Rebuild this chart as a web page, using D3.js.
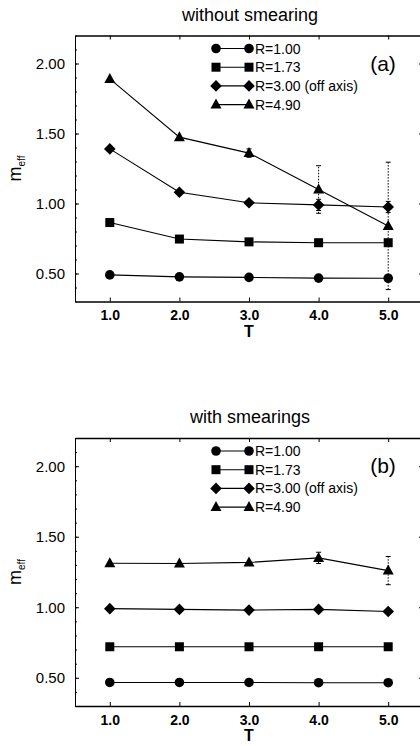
<!DOCTYPE html>
<html lang="en">
<head>
<meta charset="UTF-8">
<title>m_eff vs T</title>
<script src="https://d3js.org/d3.v7.min.js"></script>
<style>
  body { margin: 0; background: #fff; font-family: "Liberation Sans", Arial, sans-serif; }
  svg text { fill: #000; }
</style>
</head>
<body>
<div id="chart"></div>
<script>
// shared
const T = [1, 2, 3, 4, 5];
const xTicks = [1, 2, 3, 4, 5];
const yTicks = [0.5, 1.0, 1.5, 2.0];
const seriesNames = ["R=1.00", "R=1.73", "R=3.00 (off axis)", "R=4.90"];
const seriesShapes = ["circle", "square", "diamond", "triangle"];

// (a) without smearing
const a_r100 = [0.49, 0.476, 0.472, 0.467, 0.466];
const a_r173 = [0.864, 0.746, 0.726, 0.72, 0.72];
const a_r300 = [1.39, 1.08, 1.005, 0.99, 0.975];
const a_r490 = [1.89, 1.474, 1.36, 1.10, 0.84];
const a_err300 = [0, 0, 0, 0.04, 0.04];
const a_err490 = [0, 0, 0.03, 0.17, 0.455];

// (b) with smearings
const b_r100 = [0.467, 0.467, 0.467, 0.465, 0.465];
const b_r173 = [0.72, 0.72, 0.72, 0.72, 0.72];
const b_r300 = [0.99, 0.985, 0.98, 0.985, 0.97];
const b_r490 = [1.312, 1.31, 1.318, 1.35, 1.26];
const b_err300 = [0, 0, 0, 0, 0];
const b_err490 = [0, 0, 0, 0.04, 0.10];

const W = 420, H = 746;
const svg = d3.select('#chart').append('svg')
    .attr('width', W).attr('height', H);

drawPanel({
    top: 35.5, bottom: 301.5, title: "without smearing", titleY: 21, tag: "(a)",
    series: [a_r100, a_r173, a_r300, a_r490],
    errs: [null, null, a_err300, a_err490]
});
drawPanel({
    top: 438, bottom: 706, title: "with smearings", titleY: 423, tag: "(b)",
    series: [b_r100, b_r173, b_r300, b_r490],
    errs: [null, null, b_err300, b_err490]
});

function marker(g, shape, x, y) {
    if (shape == "circle") {
        g.append('circle').attr('cx', x).attr('cy', y).attr('r', 4.8);
    } else if (shape == "square") {
        g.append('rect').attr('x', x - 4.5).attr('y', y - 4.5).attr('width', 9).attr('height', 9);
    } else if (shape == "diamond") {
        g.append('path').attr('d', `M${x},${y-5.8}L${x+5.8},${y}L${x},${y+5.8}L${x-5.8},${y}Z`);
    } else {
        g.append('path').attr('d', `M${x},${y-6}L${x+5.5},${y+4}L${x-5.5},${y+4}Z`);
    }
}

function drawPanel(p) {
    const x = d3.scaleLinear().domain([0.5, 5.5]).range([75, 423]);
    const y = d3.scaleLinear().domain([0.3, 2.2]).range([p.bottom, p.top]);
    const g = svg.append('g');

    // axes: bottom / left with mirrored top / right ticks
    g.append('g').attr('transform', `translate(0,${p.bottom})`)
        .call(d3.axisBottom(x).tickValues(xTicks).tickSizeInner(-4).tickSizeOuter(0)
            .tickFormat(d3.format('.1f')).tickPadding(9))
        .call(a => a.select('.domain').attr('stroke-width', 1.4))
        .call(a => a.selectAll('text').attr('font-size', 14).attr('font-weight', 'bold')
            .attr('font-family', '"Liberation Sans", Arial, sans-serif'));
    g.append('g').attr('transform', `translate(0,${p.top})`)
        .call(d3.axisTop(x).tickValues(xTicks).tickSizeInner(-4).tickSizeOuter(0).tickFormat(''))
        .call(a => a.select('.domain').attr('stroke-width', 1.4));
    g.append('g').attr('transform', 'translate(75,0)')
        .call(d3.axisLeft(y).tickValues(yTicks).tickSizeInner(-4).tickSizeOuter(0)
            .tickFormat(d3.format('.2f')).tickPadding(10))
        .call(a => a.selectAll('text').attr('font-size', 15)
            .attr('font-family', '"Liberation Sans", Arial, sans-serif'));
    g.append('g').attr('transform', 'translate(75,0)')
        .call(d3.axisLeft(y).tickValues(d3.range(3, 23).map(v => v / 10)).tickSizeInner(-2).tickSizeOuter(0).tickFormat(''))
        .call(a => a.select('.domain').remove());
    g.append('g').attr('transform', 'translate(423,0)')
        .call(d3.axisRight(y).tickValues(yTicks).tickSizeInner(-4).tickSizeOuter(0).tickFormat(''));

    // labels
    g.append('text').attr('x', 250).attr('y', p.titleY).attr('text-anchor', 'middle')
        .attr('font-size', 18).text(p.title);
    g.append('text').attr('x', x(3)).attr('y', p.bottom + 35).attr('text-anchor', 'middle')
        .attr('font-size', 16).attr('font-weight', 'bold').text('T');
    const yl = g.append('text').attr('transform', `translate(21,${y(1.25)}) rotate(-90)`)
        .attr('text-anchor', 'middle').attr('font-size', 18);
    yl.append('tspan').text('m');
    yl.append('tspan').attr('font-size', 10).attr('dy', 4).text('eff');
    g.append('text').attr('x', 383).attr('y', y(2.0) + 7).attr('text-anchor', 'middle')
        .attr('font-size', 21).text(p.tag);

    // error bars
    p.errs.forEach((e, k) => {
        if (!e) return;
        const eg = g.append('g').attr('stroke', '#000').attr('stroke-width', 1);
        T.forEach((t, i) => {
            if (!e[i]) return;
            const v = p.series[k][i];
            eg.append('line').attr('x1', x(t)).attr('x2', x(t))
                .attr('y1', y(v - e[i])).attr('y2', y(v + e[i]))
                .attr('stroke-dasharray', '1.5,1.5');
            [v - e[i], v + e[i]].forEach(w => {
                eg.append('line').attr('x1', x(t) - 2.5).attr('x2', x(t) + 2.5)
                    .attr('y1', y(w)).attr('y2', y(w));
            });
        });
    });

    // series lines and markers
    const line = d3.line().x((d, i) => x(T[i])).y(d => y(d));
    p.series.forEach((s, k) => {
        g.append('path').attr('d', line(s)).attr('fill', 'none')
            .attr('stroke', '#000').attr('stroke-width', 1.1);
        const mg = g.append('g').attr('fill', '#000');
        s.forEach((v, i) => marker(mg, seriesShapes[k], x(T[i]), y(v)));
    });

    // legend
    const lg = g.append('g');
    seriesNames.forEach((name, k) => {
        const ly = p.top + 13 + k * 18.7;
        lg.append('line').attr('x1', 216).attr('x2', 249).attr('y1', ly).attr('y2', ly)
            .attr('stroke', '#000').attr('stroke-width', 1.1);
        const mg = lg.append('g').attr('fill', '#000');
        marker(mg, seriesShapes[k], 216, ly);
        marker(mg, seriesShapes[k], 249, ly);
        lg.append('text').attr('x', 255).attr('y', ly + 5).attr('font-size', 14).text(name);
    });
}
</script>
</body>
</html>
